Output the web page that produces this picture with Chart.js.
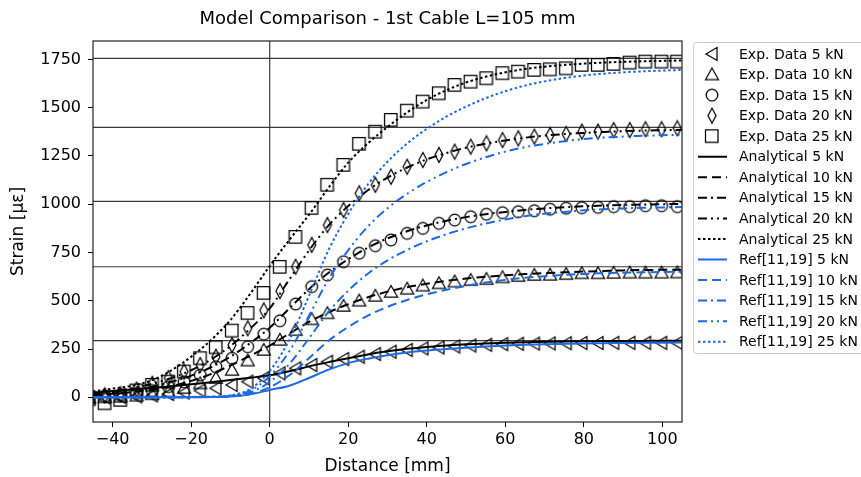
<!DOCTYPE html>
<html lang="en">
<head>
<meta charset="UTF-8">
<title>Model Comparison - 1st Cable L=105 mm</title>
<script src="https://cdn.jsdelivr.net/npm/chart.js"></script>
<style>
  html, body { margin: 0; padding: 0; background: #fff; }
  .wrap { position: relative; width: 861px; height: 477px; }
</style>
</head>
<body>
<div class="wrap"><canvas id="chart"></canvas></div>
<script>
// ---- data ----
const expX = [-46, -42, -38, -33.9, -29.9, -25.8, -21.8, -17.7, -13.7, -9.6, -5.6, -1.5, 2.6, 6.6, 10.7, 14.7, 18.8, 22.8, 26.9, 30.9,
  35, 39, 43.1, 47.1, 51.2, 55.2, 59.3, 63.3, 67.4, 71.4, 75.5, 79.5, 83.6, 87.6, 91.7, 95.7, 99.8, 103.8];
const exp5 = [0, 0, 2, 5, 10, 17, 25, 35, 47, 64, 81, 99, 124, 150, 167, 184, 198, 210, 224, 236,
  245, 253, 258, 263, 268, 272, 275, 277, 278, 279, 280, 281, 281, 282, 282, 282, 282, 282];
const exp10 = [-3, 0, 3, 8, 16, 30, 48, 72, 100, 141, 190, 245, 297, 348, 404, 435, 473, 500, 525, 545,
  562, 578, 590, 599, 607, 612, 621, 628, 633, 634, 638, 642, 642, 644, 645, 645, 645, 646];
const exp15 = [5, 5, 10, 20, 35, 55, 80, 115, 158, 202, 262, 327, 396, 483, 573, 633, 702, 746, 785, 815,
  849, 875, 901, 918, 935, 948, 956, 961, 966, 974, 979, 982, 984, 987, 987, 992, 992, 987];
const exp20 = [10, 10, 15, 40, 70, 100, 133, 167, 210, 271, 357, 450, 550, 676, 789, 892, 970, 1056, 1100, 1142,
  1194, 1229, 1255, 1272, 1298, 1315, 1332, 1341, 1350, 1358, 1364, 1376, 1376, 1384, 1384, 1388, 1388, 1393];
const exp25 = [-10, -31, -14, 35, 64, 81, 133, 202, 259, 345, 436, 540, 675, 830, 980, 1100, 1203, 1312, 1375, 1436,
  1484, 1531, 1574, 1617, 1634, 1652, 1678, 1686, 1695, 1698, 1703, 1721, 1721, 1726, 1733, 1738, 1738, 1738];

const lineX = [-45, -40, -35, -30, -25, -20, -15, -10, -5, 0, 5, 10, 15, 20, 25, 30, 35, 40, 45, 50,
  55, 60, 65, 70, 75, 80, 85, 90, 95, 100, 105];
const ana5 = [25, 32, 40, 48, 57, 67, 78, 89, 101, 114, 135, 160, 182, 202, 222, 238, 251, 261, 268, 274,
  278, 282, 285, 287, 289, 290, 291, 292, 292, 293, 293];
const ana10 = [10, 18, 28, 40, 58, 85, 120, 165, 215, 268, 330, 390, 440, 482, 518, 547, 570, 588, 603, 615,
  624, 632, 638, 643, 647, 651, 654, 657, 659, 660, 661];
const ana15 = [15, 25, 38, 55, 80, 112, 155, 210, 280, 360, 460, 560, 645, 715, 775, 823, 860, 890, 914, 933,
  948, 960, 970, 978, 984, 989, 993, 996, 998, 1000, 1001];
const ana20 = [20, 32, 48, 70, 100, 140, 195, 265, 355, 460, 610, 760, 890, 990, 1072, 1138, 1190, 1232, 1265, 1292,
  1313, 1330, 1344, 1355, 1363, 1369, 1374, 1378, 1381, 1383, 1385];
const ana25 = [30, 45, 60, 88, 140, 210, 295, 400, 535, 680, 815, 945, 1085, 1215, 1315, 1400, 1475, 1540, 1590, 1630,
  1660, 1683, 1700, 1712, 1721, 1728, 1733, 1737, 1740, 1742, 1744];
const ref5 = [0, 0, 0, 0, 0, 0, 1, 4, 15, 38, 60, 100, 143, 177, 200, 218, 232, 242, 250, 257,
  263, 268, 272, 275, 277, 279, 280, 281, 282, 283, 284];
const ref10 = [0, 0, 0, 0, 0, 1, 1, 4, 16, 52, 114, 202, 293, 364, 423, 468, 504, 533, 557, 577,
  594, 608, 619, 627, 634, 639, 643, 645, 647, 649, 650];
const ref15 = [0, 0, 0, 0, 0, 1, 2, 6, 25, 79, 172, 305, 443, 552, 640, 709, 763, 808, 844, 875,
  900, 921, 938, 951, 960, 968, 974, 978, 981, 983, 985];
const ref20 = [0, 0, 0, 0, 0, 1, 3, 8, 34, 109, 238, 422, 612, 762, 884, 979, 1054, 1115, 1166, 1208,
  1243, 1272, 1295, 1312, 1326, 1337, 1345, 1350, 1355, 1357, 1360];
const ref25 = [0, 0, 0, 0, 0, 2, 3, 10, 42, 136, 297, 525, 763, 949, 1102, 1220, 1314, 1390, 1453, 1505,
  1549, 1585, 1614, 1636, 1653, 1666, 1676, 1683, 1688, 1692, 1695];

const levelLines = [293, 676, 1015, 1398, 1755];
const loadLabels = ['5 kN', '10 kN', '15 kN', '20 kN', '25 kN'];
const xTicks = [-40, -20, 0, 20, 40, 60, 80, 100];
const yTicks = [0, 250, 500, 750, 1000, 1250, 1500, 1750];
const xRange = [-45, 105];
const yRange = [-128, 1845];

// ---- styling ----
const FONT = 'DejaVu Sans';
const BLUE = '#1b6be4';
const dashStyles = [[], [9, 5], [9, 4, 2, 4], [9, 4, 2, 4, 2, 4], [2.5, 2.5]];
const markerKinds = ['left', 'up', 'circle', 'thin', 'square'];

function pts(xs, ys) { return xs.map((x, i) => ({ x: x, y: ys[i] })); }

// open (unfilled) matplotlib-like markers
function makeMarker(kind) {
  const c = document.createElement('canvas');
  c.width = 18; c.height = 18;
  const g = c.getContext('2d');
  g.strokeStyle = '#000';
  g.lineWidth = 1.25;
  g.beginPath();
  if (kind === 'left') {
    g.moveTo(3, 9); g.lineTo(14, 2.5); g.lineTo(14, 15.5); g.closePath();
  } else if (kind === 'up') {
    g.moveTo(9, 2.5); g.lineTo(15.5, 14); g.lineTo(2.5, 14); g.closePath();
  } else if (kind === 'circle') {
    g.arc(9, 9, 5.8, 0, Math.PI * 2);
  } else if (kind === 'thin') {
    g.moveTo(9, 1.5); g.lineTo(13, 9); g.lineTo(9, 16.5); g.lineTo(5, 9); g.closePath();
  } else {
    g.rect(2.5, 2.5, 12.5, 12.5);
  }
  g.stroke();
  return c;
}
const markers = markerKinds.map(makeMarker);

const datasets = [];
[exp5, exp10, exp15, exp20, exp25].forEach((ys, i) => datasets.push({
  label: 'Exp. Data ' + loadLabels[i],
  data: pts(expX, ys),
  showLine: false,
  pointStyle: markers[i],
  pointRadius: 6,
  pointHoverRadius: 6,
  clip: 0,
  order: 3,
  kind: 'marker'
}));
[ana5, ana10, ana15, ana20, ana25].forEach((ys, i) => datasets.push({
  label: 'Analytical ' + loadLabels[i],
  data: pts(lineX, ys),
  showLine: true,
  borderColor: '#000',
  borderWidth: 2,
  borderDash: dashStyles[i],
  pointRadius: 0,
  cubicInterpolationMode: 'monotone',
  order: 2,
  kind: 'line'
}));
[ref5, ref10, ref15, ref20, ref25].forEach((ys, i) => datasets.push({
  label: 'Ref[11,19] ' + loadLabels[i],
  data: pts(lineX, ys),
  showLine: true,
  borderColor: BLUE,
  borderWidth: 2,
  borderDash: dashStyles[i],
  pointRadius: 0,
  cubicInterpolationMode: 'monotone',
  order: 1,
  kind: 'line'
}));
levelLines.forEach(v => datasets.push({
  label: '',
  data: [{ x: xRange[0], y: v }, { x: xRange[1], y: v }],
  showLine: true, borderColor: '#3a3a3a', borderWidth: 1.2, pointRadius: 0, order: 4, kind: 'helper'
}));
datasets.push({
  label: '',
  data: [{ x: 0, y: yRange[0] }, { x: 0, y: yRange[1] }],
  showLine: true, borderColor: '#3a3a3a', borderWidth: 1.2, pointRadius: 0, order: 4, kind: 'helper'
});

const fmt = v => (v < 0 ? '\u2212' + Math.abs(v) : String(v));

// title, frame and legend box like matplotlib
const decorations = {
  id: 'decorations',
  afterDatasetsDraw(chart) {
    const { ctx, chartArea: a } = chart;
    ctx.save();
    ctx.strokeStyle = '#222';
    ctx.lineWidth = 1.2;
    ctx.strokeRect(a.left, a.top, a.right - a.left, a.bottom - a.top);
    ctx.restore();
  },
  afterDraw(chart) {
    const { ctx, chartArea: a } = chart;
    ctx.save();
    ctx.fillStyle = '#000';
    ctx.font = '18px "' + FONT + '"';
    ctx.textAlign = 'center';
    ctx.textBaseline = 'middle';
    ctx.fillText('Model Comparison - 1st Cable L=105 mm', (a.left + a.right) / 2, 19);

    // legend
    const box = { x: 693, y: 42, w: 180, h: 311 };
    ctx.beginPath();
    ctx.roundRect(box.x + 0.5, box.y + 0.5, box.w, box.h, 3);
    ctx.fillStyle = 'rgba(255,255,255,0.85)';
    ctx.fill();
    ctx.strokeStyle = '#cccccc';
    ctx.lineWidth = 1;
    ctx.stroke();

    const items = chart.data.datasets.filter(d => d.kind !== 'helper');
    ctx.font = '14px "' + FONT + '"';
    ctx.textAlign = 'left';
    items.forEach((d, i) => {
      const y = 54 + i * 20.55;
      if (d.kind === 'marker') {
        ctx.drawImage(d.pointStyle, 712 - 9, y - 9);
      } else {
        ctx.beginPath();
        ctx.setLineDash(d.borderDash);
        ctx.strokeStyle = d.borderColor;
        ctx.lineWidth = d.borderWidth;
        ctx.moveTo(698, y);
        ctx.lineTo(727, y);
        ctx.stroke();
        ctx.setLineDash([]);
      }
      ctx.fillStyle = '#000';
      ctx.fillText(d.label, 739, y + 1);
    });
    ctx.restore();
  }
};

new Chart(document.getElementById('chart'), {
  type: 'scatter',
  data: { datasets: datasets },
  plugins: [decorations],
  options: {
    responsive: true,
    maintainAspectRatio: false,
    animation: false,
    events: [],
    layout: { padding: { top: 41, right: 179, left: 0, bottom: 0 } },
    plugins: { legend: { display: false }, tooltip: { enabled: false }, title: { display: false } },
    scales: {
      x: {
        type: 'linear',
        min: xRange[0],
        max: xRange[1],
        afterBuildTicks: s => { s.ticks = xTicks.map(v => ({ value: v })); },
        afterFit: s => { s.height = 55; },
        ticks: { color: '#000', font: { family: FONT, size: 16 }, padding: 3, maxRotation: 0, autoSkip: false, callback: fmt },
        grid: { display: true, drawOnChartArea: false, drawTicks: true, tickLength: 5, color: '#000' },
        border: { display: false },
        title: { display: true, text: 'Distance [mm]', color: '#000', font: { family: FONT, size: 17 }, padding: { top: 0, bottom: 0 } }
      },
      y: {
        type: 'linear',
        min: yRange[0],
        max: yRange[1],
        afterBuildTicks: s => { s.ticks = yTicks.map(v => ({ value: v })); },
        afterFit: s => { s.width = 93; },
        ticks: { color: '#000', font: { family: FONT, size: 16 }, padding: 7, autoSkip: false, callback: fmt },
        grid: { display: true, drawOnChartArea: false, drawTicks: true, tickLength: 5, color: '#000' },
        border: { display: false },
        title: { display: true, text: 'Strain [\u00b5\u03b5]', color: '#000', font: { family: FONT, size: 17 }, padding: { top: 8, bottom: 0 } }
      }
    }
  }
});
</script>
</body>
</html>
